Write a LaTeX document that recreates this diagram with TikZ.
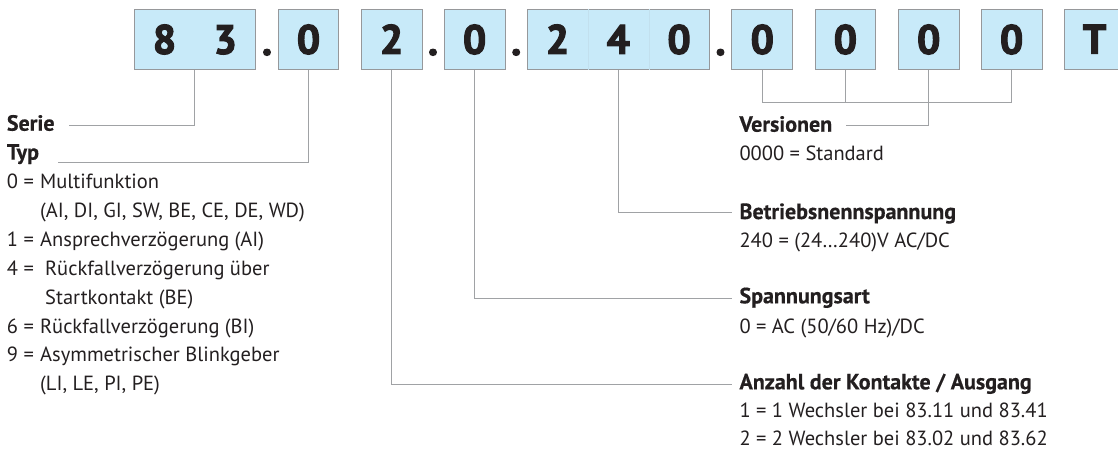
\documentclass[tikz,border=0pt]{standalone}
\usepackage{fontspec}
\setmainfont{PT Sans}[BoldFeatures={FakeBold=0.5}]
\newfontfamily\digitfont{PT Sans}[BoldFeatures={FakeBold=3}]
\usetikzlibrary{calc}

\definecolor{cellfill}{RGB}{200,234,249}
\definecolor{cellline}{RGB}{150,152,155}
\definecolor{leader}{RGB}{160,162,165}
\definecolor{ink}{RGB}{35,31,32}

\newcommand{\cellw}{60.8pt}
\newcommand{\cell}[1]{\makebox[\cellw]{#1}}
\newcommand{\key}[2]{\makebox[33.3pt][l]{#1}#2}

\begin{document}
\begin{tikzpicture}[x=1pt,y=-1pt,
  codebox/.style={draw=cellline, line width=0.9pt, fill=cellfill, inner sep=0pt,
    minimum height=60.3pt, text depth=0pt, font=\digitfont\fontsize{41}{41}\selectfont\bfseries, text=ink},
  sep/.style={anchor=base, inner sep=0pt, font=\digitfont\fontsize{41}{41}\selectfont\bfseries, text=ink},
  conn/.style={draw=leader, line width=0.9pt},
  head/.style={anchor=base west, inner sep=0pt, font=\fontsize{22}{22}\selectfont\bfseries, text=ink},
  body/.style={anchor=base west, inner sep=0pt, font=\fontsize{20.5}{20.5}\selectfont, text=ink}]
\clip (0,0) rectangle (1118,450);
\useasboundingbox (0,0) rectangle (1118,450);

% code boxes
\node[codebox] (b83) at (194.9,39.2) {\cell{8}\cell{3}};
\node[codebox, minimum width=\cellw] (bTyp) at (308.5,39.2) {0};
\node[codebox, minimum width=\cellw] (bK)   at (391.6,39.2) {2};
\node[codebox, minimum width=\cellw] (bS)   at (474.6,39.2) {0};
\node[codebox] (bU) at (618.3,39.2) {\cell{2}\cell{4}\cell{0}};
\draw[draw=cellfill!88!cellline, line width=0.5pt] ($(bU.north west)!1/3!(bU.north east)$) -- ($(bU.south west)!1/3!(bU.south east)$);
\draw[draw=cellfill!88!cellline, line width=0.5pt] ($(bU.north west)!2/3!(bU.north east)$) -- ($(bU.south west)!2/3!(bU.south east)$);
\node[codebox, minimum width=\cellw] (bV1) at (762.3,39.2) {0};
\node[codebox, minimum width=\cellw] (bV2) at (845.4,39.2) {0};
\node[codebox, minimum width=\cellw] (bV3) at (928.7,39.2) {0};
\node[codebox, minimum width=\cellw] (bV4) at (1011.6,39.2) {0};
\node[codebox, minimum width=\cellw] (bT)  at (1094.6,39.2) {T};

% separating points
\node[sep] (d1) at (267,55) {.};
\node[sep] (d2) at (433,55) {.};
\node[sep] (d3) at (516.2,55) {.};
\node[sep] (d4) at (720.5,55) {.};

% left column
\node[head] (serie) at (6.7,130.7) {Serie};
\node[head] (typ)   at (6.7,159.6) {Typ};
\node[body] (t0)  at (6.7,188.5) {\key{0 =}{Multifunktion}};
\node[body] (t0b) at (40,217.4)  {(AI, DI, GI, SW, BE, CE, DE, WD)};
\node[body] (t1)  at (6.7,246.3) {\key{1 =}{Ansprechverzögerung (AI)}};
\node[body] (t4)  at (6.7,275.2) {\makebox[38.3pt][l]{4 =}Rückfallverzögerung über};
\node[body] (t4b) at (45,304.1)  {Startkontakt (BE)};
\node[body] (t6)  at (6.7,333)   {\key{6 =}{Rückfallverzögerung (BI)}};
\node[body] (t9)  at (6.7,361.9) {\key{9 =}{Asymmetrischer Blinkgeber}};
\node[body] (t9b) at (40,390.8)  {(LI, LE, PI, PE)};

% right column
\node[head] (ver)  at (739.3,131.7) {Versionen};
\node[body] (ver0) at (739.3,160.2) {0000 = Standard};
\node[head] (bet)  at (739.3,219)   {Betriebsnennspannung};
\node[body] (bet0) at (739.3,247.2) {240 = (24…240)V AC/DC};
\node[head] (spa)  at (739.3,303.3) {Spannungsart};
\node[body] (spa0) at (739.3,333.2) {0 = AC (50/60 Hz)/DC};
\node[head] (anz)  at (739.3,389.3) {Anzahl der Kontakte / Ausgang};
\node[body] (anz1) at (739.3,417.5) {1 = 1 Wechsler bei 83.11 und 83.41};
\node[body] (anz2) at (739.3,445.2) {2 = 2 Wechsler bei 83.02 und 83.62};

% leader ends
\coordinate (serieEnd) at (69,125.7);
\coordinate (typEnd)   at (57.7,162.3);
\coordinate (verEnd)   at (846,125.7);
\coordinate (betEnd)   at (731.7,212.7);
\coordinate (spaEnd)   at (731.7,298.8);
\coordinate (anzEnd)   at (731.7,384.5);
\coordinate (brk)      at (0,102.1);

% leaders
\draw[conn] (b83.south)  |- (serieEnd);
\draw[conn] (bTyp.south) |- (typEnd);
\draw[conn] (bK.south)   |- (anzEnd);
\draw[conn] (bS.south)   |- (spaEnd);
\draw[conn] (bU.south)   |- (betEnd);
\draw[conn] (bV1.south)  |- (bV4.south |- brk) -- (bV4.south);
\draw[conn] (bV2.south)  -- (bV2.south |- brk);
\draw[conn] (bV3.south)  |- (verEnd);
\end{tikzpicture}
\end{document}
